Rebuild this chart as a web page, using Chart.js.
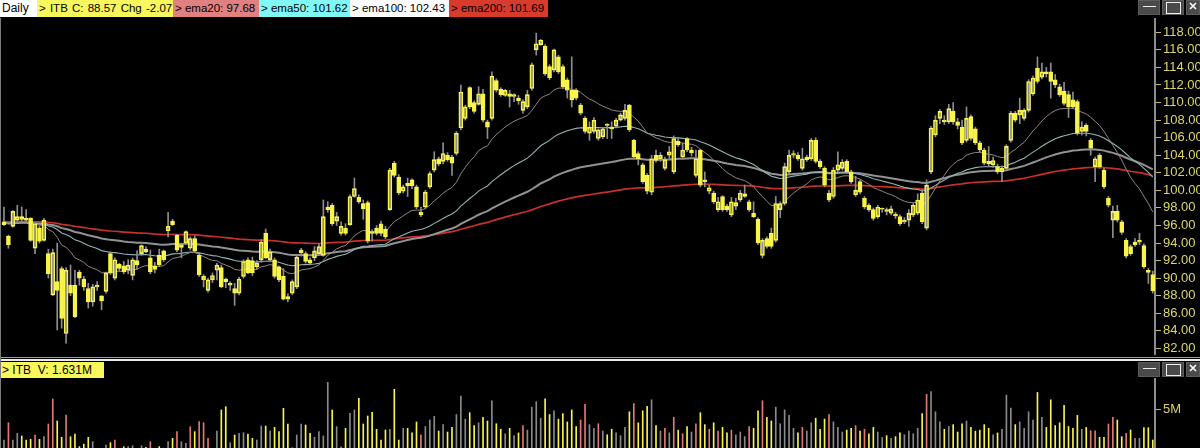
<!DOCTYPE html>
<html>
<head>
<meta charset="utf-8">
<title>ITB Daily</title>
<script src="https://cdn.jsdelivr.net/npm/chart.js@4.4.1/dist/chart.umd.min.js"></script>
<style>
  html, body { margin: 0; padding: 0; background: #000; }
  body { position: relative; width: 1200px; height: 448px; overflow: hidden; font-family: "Liberation Sans", Arial, sans-serif; }
  .tag { position: absolute; height: 17px; line-height: 17px; font-size: 11.5px; color: #000; white-space: nowrap; padding-left: 2px; box-sizing: border-box; overflow: hidden; }
  .btn { position: absolute; height: 15px; background: #4a4a4a; box-sizing: border-box; border: 1px solid #5c5c5c; }
  .btn svg { position: absolute; left: 0; top: 0; }
  #priceBox { position: absolute; left: 0; top: 18px; width: 1200px; height: 337px; }
  #volBox { position: absolute; left: 0; top: 378px; width: 1200px; height: 77px; }
  .rule { position: absolute; left: 0; width: 1200px; }
</style>
</head>
<body>

<div class="tag" style="left:0;top:0;width:37px;background:#ffffff;font-size:12px">Daily</div>
<div class="tag" style="left:37px;top:0;width:136px;background:#f8f85c;word-spacing:1px">&gt; ITB C: 88.57 Chg -2.07</div>
<div class="tag" style="left:173px;top:0;width:86px;background:#e08080">&gt; ema20: 97.68</div>
<div class="tag" style="left:259px;top:0;width:91px;background:#80f8f8">&gt; ema50: 101.62</div>
<div class="tag" style="left:350px;top:0;width:99px;background:#ffffff">&gt; ema100: 102.43</div>
<div class="tag" style="left:449px;top:0;padding-right:4px;background:#d83a2c">&gt; ema200: 101.69</div>

<div class="btn" style="left:1138px;top:0;width:22px"><svg width="22" height="15"><line x1="4" y1="5.5" x2="17" y2="5.5" stroke="#f0f0f0" stroke-width="1"/></svg></div>
<div class="btn" style="left:1162px;top:0;width:22px"><svg width="22" height="15"><rect x="3.5" y="1.5" width="14" height="11" fill="none" stroke="#f0f0f0" stroke-width="1"/></svg></div>
<div class="btn" style="left:1186px;top:0;width:14px"><svg width="14" height="15"><path d="M3 2 L9 8 M9 2 L3 8" stroke="#ffffff" stroke-width="1.6"/></svg></div>

<div id="priceBox"><canvas id="priceChart" width="1200" height="337"></canvas></div>

<div class="rule" style="top:357px;height:1px;background:#a0a0a0"></div>
<div class="rule" style="top:359px;height:2px;background:#ececec"></div>

<div class="tag" style="left:0;top:362px;width:104px;height:16px;line-height:16px;background:#f8f85c;font-size:12px">&gt; ITB&nbsp; V: 1.631M</div>
<div class="btn" style="left:1138px;top:362px;width:22px"><svg width="22" height="15"><line x1="4" y1="5.5" x2="17" y2="5.5" stroke="#f0f0f0" stroke-width="1"/></svg></div>
<div class="btn" style="left:1162px;top:362px;width:22px"><svg width="22" height="15"><rect x="3.5" y="1.5" width="14" height="11" fill="none" stroke="#f0f0f0" stroke-width="1"/></svg></div>
<div class="btn" style="left:1186px;top:362px;width:14px"><svg width="14" height="15"><path d="M3 2 L9 8 M9 2 L3 8" stroke="#ffffff" stroke-width="1.6"/></svg></div>

<div id="volBox"><canvas id="volChart" width="1200" height="77"></canvas></div>

<div style="position:absolute;left:0;top:18px;width:1px;height:430px;background:#7c7c7c"></div>

<script>
// ITB daily bars, oldest first
const opens = [
  96.1, 94.8, 95.9, 96.6, 97.0, 96.8, 96.8, 93.4, 95.7, 94.3,
  92.8, 88.1, 89.6, 91.1, 83.7, 89.2, 89.2, 90.7, 89.9, 88.8,
  87.3, 89.0, 88.0, 88.5, 92.8, 90.0, 91.6, 91.4, 90.9, 90.3,
  92.0, 92.8, 93.3, 92.3, 91.4, 92.6, 93.1, 95.4, 96.5, 94.9,
  93.5, 94.0, 93.4, 94.5, 92.6, 89.8, 88.6, 89.8, 90.9, 91.2,
  89.9, 89.2, 88.8, 88.3, 90.2, 92.1, 92.0, 91.3, 92.1, 95.1,
  92.1, 92.1, 91.3, 90.2, 87.9, 88.3, 89.0, 92.9, 92.8, 92.1,
  92.3, 92.8, 92.6, 97.8, 98.3, 96.5, 95.1, 95.7, 96.1, 99.3,
  99.2, 98.5, 98.6, 95.3, 95.7, 96.2, 95.6, 97.8, 103.1, 101.5,
  99.9, 100.8, 101.2, 100.4, 97.2, 98.1, 100.4, 102.3, 103.6, 103.3,
  104.0, 103.8, 104.2, 107.1, 108.2, 111.7, 110.0, 109.8, 111.0, 107.8,
  108.2, 112.5, 111.5, 110.8, 111.0, 110.7, 110.5, 109.1, 109.5, 111.6,
  116.0, 116.6, 116.4, 114.1, 113.7, 115.2, 114.1, 112.6, 111.4, 111.4,
  109.7, 108.2, 106.5, 106.7, 105.9, 106.1, 107.5, 107.2, 107.3, 108.0,
  108.2, 109.7, 105.7, 104.2, 102.9, 101.7, 99.8, 104.0, 103.6, 102.5,
  104.0, 102.1, 105.6, 103.8, 105.9, 104.3, 101.7, 104.6, 101.2, 99.9,
  99.7, 97.8, 99.3, 98.2, 97.2, 98.2, 98.9, 99.3, 98.7, 97.4,
  96.7, 92.6, 94.5, 95.1, 94.3, 97.8, 98.5, 102.1, 104.0, 104.0,
  102.5, 103.5, 103.6, 105.7, 103.3, 102.5, 99.7, 99.3, 102.3, 102.5,
  103.3, 102.1, 99.5, 101.0, 99.1, 98.3, 97.8, 97.0, 97.85, 97.8,
  97.4, 97.3, 97.0, 96.4, 96.6, 97.2, 97.4, 99.7, 95.7, 102.1,
  106.3, 108.2, 108.0, 107.8, 109.0, 107.8, 107.2, 105.7, 108.4, 107.0,
  105.4, 104.6, 103.3, 102.9, 102.7, 102.1, 102.5, 105.7, 108.8, 108.6,
  108.2, 109.1, 111.0, 113.9, 112.9, 113.5, 113.5, 112.6, 111.8, 111.3,
  110.9, 110.3, 110.1, 106.7, 107.4, 105.7, 102.7, 104.0, 102.3, 99.1,
  96.6, 97.6, 96.4, 94.3, 93.6, 93.8, 94.1, 93.7, 90.9, 90.4
];
const highs = [
  98.1, 94.9, 97.7, 98.3, 98.1, 97.8, 96.9, 96.3, 95.9, 96.8,
  93.3, 93.3, 94.0, 91.3, 91.2, 91.5, 90.9, 90.9, 90.2, 89.4,
  89.3, 89.6, 88.0, 90.7, 93.0, 92.3, 91.7, 91.9, 92.1, 92.3,
  93.1, 93.8, 93.6, 93.2, 91.8, 93.3, 93.2, 97.5, 96.7, 95.0,
  94.0, 95.4, 94.7, 94.8, 92.9, 90.4, 90.0, 90.6, 91.7, 91.5,
  90.0, 89.6, 89.4, 90.1, 92.1, 92.3, 92.4, 92.0, 94.4, 95.6,
  93.3, 92.3, 91.4, 91.1, 88.2, 89.8, 92.6, 93.4, 93.0, 92.3,
  93.6, 93.9, 98.9, 98.7, 98.5, 97.5, 96.4, 96.2, 99.5, 101.4,
  99.5, 98.9, 98.8, 95.5, 96.0, 96.5, 95.9, 102.5, 103.3, 101.8,
  100.6, 101.4, 101.3, 100.6, 98.1, 100.0, 102.1, 104.4, 103.8, 105.4,
  104.3, 104.0, 106.7, 112.0, 109.7, 111.8, 110.2, 111.8, 111.5, 108.0,
  113.5, 112.7, 111.7, 111.5, 111.4, 111.0, 110.8, 110.3, 111.4, 114.5,
  117.9, 117.2, 116.6, 114.3, 116.1, 115.4, 114.3, 112.8, 115.2, 111.6,
  109.9, 108.4, 107.8, 108.3, 107.0, 107.1, 107.6, 107.8, 108.2, 108.8,
  109.8, 109.8, 105.8, 104.4, 103.1, 101.9, 104.0, 104.6, 104.3, 103.8,
  105.0, 106.2, 105.9, 105.4, 106.0, 104.9, 104.6, 104.7, 102.1, 100.6,
  99.9, 99.2, 99.4, 98.4, 99.2, 99.1, 100.0, 100.6, 98.9, 98.7,
  96.9, 94.5, 94.7, 95.7, 99.3, 98.7, 103.1, 104.6, 104.5, 104.3,
  104.8, 104.0, 105.9, 106.0, 103.5, 102.7, 100.0, 102.6, 104.4, 103.5,
  103.5, 102.3, 101.6, 101.2, 99.3, 98.5, 98.0, 98.3, 98.0, 98.0,
  98.2, 97.5, 97.2, 96.9, 97.8, 98.5, 99.6, 100.1, 101.2, 107.3,
  108.5, 109.2, 108.5, 109.8, 110.0, 108.2, 108.0, 109.5, 108.6, 107.2,
  105.6, 104.8, 105.0, 103.8, 103.0, 102.8, 105.2, 109.0, 109.0, 110.5,
  109.3, 112.6, 113.0, 115.2, 114.5, 114.0, 114.5, 113.2, 112.1, 112.3,
  111.3, 111.2, 110.3, 107.8, 107.6, 105.9, 103.8, 104.2, 102.5, 99.3,
  98.2, 98.3, 96.6, 94.5, 93.8, 94.5, 95.1, 93.9, 91.1, 90.8
];
const lows = [
  96.0, 93.4, 95.8, 96.5, 96.5, 96.5, 94.2, 92.8, 94.0, 94.2,
  90.0, 88.0, 84.1, 84.3, 82.6, 88.0, 85.5, 89.2, 88.6, 86.6,
  86.8, 88.6, 86.4, 88.3, 90.4, 89.8, 90.8, 90.5, 90.5, 89.8,
  91.0, 92.6, 92.9, 90.5, 90.6, 91.3, 91.9, 94.7, 96.0, 93.0,
  92.3, 93.9, 93.2, 92.9, 90.2, 89.0, 88.4, 89.5, 89.8, 88.9,
  88.9, 88.6, 86.9, 88.1, 90.0, 90.5, 90.3, 91.0, 91.8, 92.2,
  91.9, 90.0, 89.6, 87.5, 87.3, 88.1, 88.8, 92.5, 91.7, 91.5,
  92.0, 92.6, 92.5, 97.5, 96.0, 96.0, 94.9, 94.9, 96.0, 99.2,
  98.5, 96.7, 94.0, 94.2, 94.9, 94.8, 94.5, 97.7, 101.5, 99.5,
  99.7, 99.3, 100.2, 97.9, 97.0, 97.9, 100.2, 102.1, 102.8, 103.0,
  103.3, 101.7, 104.0, 106.9, 108.0, 109.3, 108.8, 109.7, 107.8, 105.9,
  108.0, 111.2, 110.7, 110.7, 109.5, 110.1, 109.8, 108.8, 109.3, 111.4,
  115.4, 116.5, 113.1, 112.6, 113.5, 113.3, 111.6, 110.5, 109.5, 110.3,
  108.6, 106.5, 105.7, 106.5, 105.7, 105.9, 105.9, 105.9, 107.1, 107.9,
  108.0, 106.7, 103.6, 102.9, 100.8, 99.6, 99.5, 103.2, 103.3, 102.3,
  103.5, 101.9, 105.0, 103.6, 104.4, 103.9, 101.5, 100.4, 100.4, 99.6,
  98.5, 97.6, 97.6, 97.6, 97.0, 97.8, 98.7, 99.2, 97.6, 96.9,
  93.8, 92.3, 93.4, 93.4, 94.1, 96.9, 98.3, 101.9, 103.7, 103.4,
  102.3, 103.3, 103.4, 103.1, 102.5, 100.4, 98.7, 99.1, 102.1, 102.3,
  101.9, 100.8, 99.3, 99.6, 97.9, 97.6, 96.6, 96.8, 97.5, 97.2,
  97.2, 96.8, 96.0, 96.2, 95.9, 97.0, 97.2, 96.2, 95.5, 101.9,
  106.1, 107.6, 107.5, 107.6, 107.5, 107.0, 105.2, 105.5, 105.7, 105.2,
  104.4, 102.9, 102.7, 102.6, 101.9, 101.0, 102.3, 105.5, 107.8, 107.6,
  108.0, 108.9, 110.8, 112.2, 112.7, 112.9, 110.5, 111.7, 110.7, 109.7,
  108.3, 109.3, 106.3, 106.3, 106.2, 104.0, 101.0, 102.5, 100.2, 98.1,
  94.6, 96.4, 95.0, 92.3, 92.6, 93.6, 93.8, 91.1, 89.4, 88.3
];
const closes = [
  96.4, 93.8, 97.6, 97.0, 96.7, 96.6, 94.3, 96.2, 94.2, 96.6,
  90.5, 92.9, 88.6, 85.4, 90.9, 88.3, 85.6, 90.0, 89.0, 87.3,
  89.0, 89.2, 87.4, 90.6, 90.6, 92.1, 91.1, 90.7, 91.5, 92.1,
  91.5, 93.7, 93.0, 90.7, 91.0, 91.5, 92.1, 95.9, 96.1, 93.2,
  93.8, 95.3, 94.5, 93.1, 90.4, 90.2, 89.8, 90.3, 91.5, 89.0,
  89.6, 89.4, 88.3, 89.9, 91.9, 90.6, 90.6, 91.7, 94.1, 92.3,
  93.0, 90.2, 89.8, 87.6, 87.6, 89.6, 92.4, 93.2, 91.9, 91.7,
  93.1, 93.6, 97.0, 98.1, 96.2, 97.0, 95.9, 95.1, 99.3, 100.2,
  98.7, 97.9, 94.2, 95.1, 95.1, 95.1, 94.7, 102.3, 101.7, 99.7,
  100.4, 100.5, 100.5, 98.1, 97.5, 99.8, 101.9, 103.5, 103.0, 104.2,
  103.5, 103.1, 106.5, 111.2, 109.5, 109.5, 109.0, 111.0, 108.0, 107.2,
  113.0, 111.4, 110.9, 111.4, 110.7, 110.9, 110.2, 110.1, 110.9, 114.3,
  116.7, 117.1, 113.3, 112.8, 116.0, 113.5, 111.8, 111.4, 110.3, 110.5,
  108.8, 106.7, 107.2, 108.0, 106.9, 107.0, 107.4, 107.0, 108.0, 108.6,
  109.1, 106.9, 103.8, 103.6, 101.0, 99.9, 103.6, 103.4, 104.0, 103.5,
  104.4, 105.9, 105.2, 104.6, 104.6, 104.6, 103.6, 100.6, 101.0, 100.3,
  98.7, 98.7, 97.8, 97.8, 98.7, 98.6, 99.7, 99.6, 97.8, 97.0,
  94.0, 94.3, 93.6, 93.6, 98.5, 98.5, 102.7, 104.0, 104.2, 103.6,
  103.6, 103.8, 105.7, 103.3, 102.7, 100.6, 98.9, 102.3, 102.9, 103.2,
  102.1, 101.0, 100.0, 99.8, 98.1, 97.8, 96.8, 98.1, 97.95, 97.6,
  97.9, 97.1, 96.2, 96.6, 97.4, 98.3, 98.9, 96.4, 100.6, 107.1,
  108.0, 109.0, 107.8, 109.3, 107.8, 107.4, 105.4, 108.2, 105.9, 105.4,
  104.6, 103.1, 103.0, 103.4, 102.1, 102.5, 105.0, 108.8, 108.0, 109.1,
  109.1, 112.4, 112.8, 112.4, 113.5, 113.3, 112.4, 112.0, 110.9, 109.9,
  109.5, 109.5, 106.5, 107.2, 106.7, 104.8, 103.6, 102.7, 100.4, 98.3,
  97.6, 96.6, 95.2, 92.5, 92.8, 94.1, 94.3, 91.3, 90.64, 88.57
];
// daily volume, millions of shares
const volumes = [
  1.63, 3.51, 1.63, 2.36, 2.07, 1.63, 1.70, 2.17, 1.70, 1.99,
  3.37, 6.09, 3.70, 1.92, 4.35, 1.99, 2.28, 0.91, 1.20, 1.92,
  1.45, 0.60, 0.72, 1.09, 1.34, 1.63, 0.60, 0.91, 0.91, 1.01,
  0.60, 1.01, 0.83, 1.45, 0.60, 0.91, 0.60, 1.45, 1.81, 2.54,
  1.45, 1.27, 3.08, 2.54, 3.62, 3.51, 1.81, 0.60, 2.61, 4.89,
  5.25, 1.34, 2.17, 2.36, 2.43, 2.28, 1.81, 1.63, 3.15, 3.15,
  2.61, 3.01, 2.54, 5.07, 3.37, 0.80, 2.17, 3.37, 3.26, 2.36,
  1.92, 2.54, 2.07, 7.90, 4.89, 3.08, 0.90, 2.90, 4.53, 4.89,
  6.16, 3.37, 4.24, 4.64, 2.79, 1.63, 2.72, 2.79, 7.14, 1.63,
  2.90, 2.9, 2.4, 3.6, 2.2, 3.1, 3.8, 4.2, 2.6, 3.3,
  2.5, 3.0, 4.4, 6.4, 3.9, 4.6, 3.2, 3.5, 4.1, 3.7,
  5.9, 3.4, 2.8, 2.3, 2.9, 2.1, 2.4, 3.2, 2.7, 5.2,
  5.8, 4.0, 6.1, 4.4, 4.8, 3.9, 4.5, 3.6, 4.9, 3.1,
  3.8, 5.5, 3.3, 2.9, 3.4, 2.6, 2.2, 2.8, 2.4, 2.1,
  3.0, 4.7, 5.6, 3.5, 4.8, 5.3, 6.0, 3.2, 2.6, 2.9,
  2.4, 4.1, 2.7, 2.3, 3.1, 2.5, 3.4, 4.6, 3.3, 2.8,
  3.5, 2.6, 3.0, 2.4, 2.7, 2.2, 2.5, 2.0, 3.1, 2.9,
  4.8, 5.9, 4.1, 3.7, 5.2, 3.4, 4.9, 4.3, 2.9, 2.4,
  3.0, 2.6, 3.5, 4.0, 2.8, 3.9, 4.4, 3.6, 3.0, 2.5,
  2.7, 2.9, 3.2, 2.6, 2.8, 2.3, 3.0, 2.5, 1.9, 2.1,
  1.8, 2.0, 2.4, 2.2, 2.6, 2.3, 2.9, 4.5, 6.6, 6.9,
  4.7, 3.6, 2.8, 3.1, 3.3, 2.5, 3.4, 3.7, 3.0, 2.6,
  2.7, 3.3, 2.9, 2.2, 2.4, 2.8, 6.5, 5.1, 3.3, 3.6,
  2.9, 4.7, 3.8, 6.8, 4.1, 3.0, 6.0, 3.2, 3.5, 5.4,
  3.1, 2.9, 4.3, 2.8, 3.0, 2.64, 2.64, 1.92, 1.92, 3.37,
  4.09, 3.80, 1.99, 2.36, 2.72, 1.81, 1.81, 2.97, 2.97, 1.631
];
// moving-average values at the first bar of the window
const emaStart = { ema20: 96.4, ema50: 96.3, ema100: 96.3, ema200: 96.45 };
const priceTicks = [82, 84, 86, 88, 90, 92, 94, 96, 98, 100, 102, 104, 106, 108, 110, 112, 114, 116, 118];
const volumeTicks = [5];

const YELLOW = '#f8f44c';
const WICK = '#8e8e8e';
const AXIS = '#8c8c8c';
const LABEL = '#dcd66a';
const TICKMARK = '#c8bc5c';

function ema(values, period, start) {
  const k = 2 / (period + 1);
  const out = [start];
  for (let i = 1; i < values.length; i++) out.push(out[i - 1] + k * (values[i] - out[i - 1]));
  return out;
}

const xMin = -0.9, xMax = 259.5;
const fixRightAxis = (scale) => { scale.width = 45; scale.paddingTop = 0; scale.paddingBottom = 0; };
const xScale = { type: 'linear', min: xMin, max: xMax, display: false, offset: false };

const isUp = (i) => closes[i] >= opens[i];

const bodies = closes.map((c, i) => ({ x: i, y: [opens[i], c] }));
const wicks = closes.map((c, i) => ({ x: i, y: [lows[i], highs[i]] }));
const emaLine = (key, period) => ema(closes, period, emaStart[key]).map((v, i) => ({ x: i, y: v }));

const axisTicks = (fmt) => ({
  color: LABEL, padding: 2, autoSkip: false, maxRotation: 0,
  font: { family: 'Liberation Sans', size: 13 }, callback: fmt
});

new Chart(document.getElementById('priceChart'), {
  type: 'bar',
  data: {
    datasets: [
      {
        label: 'body', data: bodies, order: 0, grouped: false,
        barThickness: 4, minBarLength: 1, borderWidth: 1, borderSkipped: false,
        borderColor: YELLOW,
        backgroundColor: (ctx) => (ctx.type === 'data' && isUp(ctx.dataIndex)) ? 'rgba(0,0,0,0)' : YELLOW
      },
      {
        label: 'range', data: wicks, order: 1, grouped: false,
        barThickness: 1, borderWidth: 0, backgroundColor: WICK
      },
      { type: 'line', label: 'ema20', data: emaLine('ema20', 20), order: 2, borderColor: '#958484', borderWidth: 1, pointRadius: 0, tension: 0 },
      { type: 'line', label: 'ema50', data: emaLine('ema50', 50), order: 3, borderColor: '#93b4b6', borderWidth: 1.1, pointRadius: 0, tension: 0 },
      { type: 'line', label: 'ema100', data: emaLine('ema100', 100), order: 4, borderColor: '#929292', borderWidth: 2, pointRadius: 0, tension: 0 },
      { type: 'line', label: 'ema200', data: emaLine('ema200', 200), order: 5, borderColor: '#c8302a', borderWidth: 1.7, pointRadius: 0, tension: 0 }
    ]
  },
  options: {
    responsive: false, animation: false, devicePixelRatio: 1,
    layout: { padding: 0 },
    plugins: { legend: { display: false }, tooltip: { enabled: false } },
    scales: {
      x: xScale,
      y: {
        position: 'right', min: 81.247, max: 119.629,
        afterBuildTicks: (s) => { s.ticks = priceTicks.map((v) => ({ value: v })); },
        afterFit: fixRightAxis,
        ticks: axisTicks((v) => Number(v).toFixed(2)),
        grid: { drawOnChartArea: false, drawTicks: true, tickLength: 6, color: TICKMARK, lineWidth: 1 },
        border: { display: true, color: AXIS, width: 2 }
      }
    }
  }
});

// volume colouring: filled-body days yellow, hollow days grey, sharp gap-down opens salmon
const volumeColor = (i) => {
  if (i > 0 && opens[i] < lows[i - 1] - 0.3) return '#e07a72';
  return isUp(i) ? '#8a8a8a' : YELLOW;
};

new Chart(document.getElementById('volChart'), {
  type: 'bar',
  data: {
    datasets: [{
      label: 'volume', data: volumes.map((v, i) => ({ x: i, y: v })),
      barThickness: 1, borderWidth: 0,
      backgroundColor: (ctx) => ctx.type === 'data' ? volumeColor(ctx.dataIndex) : '#8a8a8a'
    }]
  },
  options: {
    responsive: false, animation: false, devicePixelRatio: 1,
    layout: { padding: 0 },
    plugins: { legend: { display: false }, tooltip: { enabled: false } },
    scales: {
      x: xScale,
      y: {
        position: 'right', min: 0, max: 8.37,
        afterBuildTicks: (s) => { s.ticks = volumeTicks.map((v) => ({ value: v })); },
        afterFit: fixRightAxis,
        ticks: axisTicks((v) => v + 'M'),
        grid: { drawOnChartArea: false, drawTicks: true, tickLength: 6, color: TICKMARK, lineWidth: 1 },
        border: { display: true, color: AXIS, width: 2 }
      }
    }
  }
});
</script>
</body>
</html>
